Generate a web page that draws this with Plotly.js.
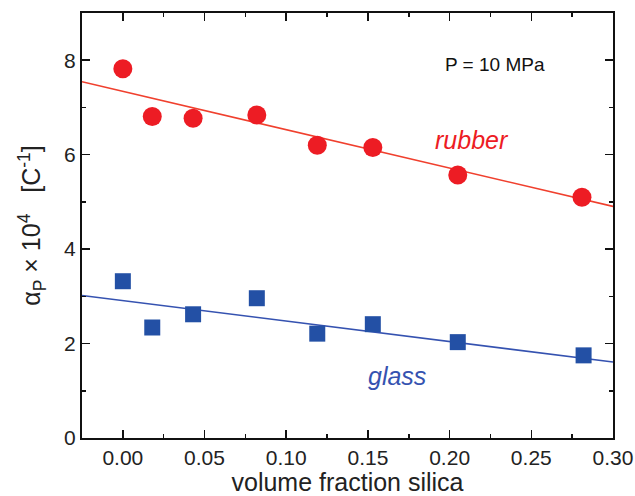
<!DOCTYPE html>
<html><head><meta charset="utf-8">
<script src="https://cdn.plot.ly/plotly-3.0.1.min.js"></script>
<style>html,body{margin:0;padding:0;background:#fff}#c{width:635px;height:496px}</style>
</head><body><div id="c"></div>
<script>
const silicaRubber = [0.000, 0.018, 0.043, 0.082, 0.119, 0.153, 0.205, 0.281];
const alphaRubber  = [7.82, 6.81, 6.77, 6.84, 6.20, 6.15, 5.57, 5.10];
const silicaGlass  = [0.000, 0.018, 0.043, 0.082, 0.119, 0.153, 0.205, 0.282];
const alphaGlass   = [3.32, 2.34, 2.62, 2.96, 2.21, 2.41, 2.03, 1.75];
const rubberFit = [7.34, -8.12];   // intercept, slope
const glassFit  = [2.91, -4.34];
const fitRange  = [-0.025, 0.30];
const xTicks = [0, 0.05, 0.10, 0.15, 0.20, 0.25, 0.30];
const xTickText = ['0.00','0.05','0.10','0.15','0.20','0.25','0.30'];
const yTicks = [0, 2, 4, 6, 8];

const font = 'Liberation Sans, Arial, sans-serif';
const red = '#ED1C24', blue = '#2350A5';
const fitY = (p) => fitRange.map(x => p[0] + p[1]*x);

const traces = [
  {x: fitRange, y: fitY(rubberFit), mode:'lines', line:{color:'#F0402E', width:1.6}, hoverinfo:'skip'},
  {x: fitRange, y: fitY(glassFit), mode:'lines', line:{color:'#3552B0', width:1.6}, hoverinfo:'skip'},
  {x: silicaRubber, y: alphaRubber, mode:'markers', marker:{symbol:'circle', size:19, color:red}},
  {x: silicaGlass, y: alphaGlass, mode:'markers', marker:{symbol:'square', size:16, color:blue}}
];

const axisCommon = {
  showline:true, linecolor:'#111', linewidth:2, mirror:'ticks',
  ticks:'inside', ticklen:8, tickwidth:1.5, tickcolor:'#111',
  showgrid:false, zeroline:false,
  tickfont:{family:font, size:21, color:'#222'}
};

const layout = {
  width:635, height:496,
  margin:{l:82, r:22, t:13, b:58},
  paper_bgcolor:'#fff', plot_bgcolor:'#fff',
  showlegend:false,
  xaxis: Object.assign({}, axisCommon, {
    range: fitRange, tickvals: xTicks, ticktext: xTickText,
    minor:{dtick:0.025, ticks:'inside', ticklen:4, tickwidth:1.5, tickcolor:'#111', showgrid:false},
    title:{text:'volume fraction silica', font:{family:font, size:25, color:'#222'}, standoff:5}
  }),
  yaxis: Object.assign({}, axisCommon, {
    range:[0, 9], tickvals: yTicks,
    minor:{dtick:1, ticks:'inside', ticklen:4, tickwidth:1.5, tickcolor:'#111', showgrid:false},
    title:{text:'α<sub>P</sub> × 10<sup>4</sup>   [C<sup>-1</sup>]', font:{family:font, size:25, color:'#222'}, standoff:16}
  }),
  annotations:[
    {x:0.228, y:7.9, xref:'x', yref:'y', text:'P = 10 MPa', showarrow:false, font:{family:font, size:19, color:'#111'}},
    {x:0.214, y:6.31, xref:'x', yref:'y', text:'<i>rubber</i>', showarrow:false, font:{family:font, size:25, color:red}},
    {x:0.168, y:1.31, xref:'x', yref:'y', text:'<i>glass</i>', showarrow:false, font:{family:font, size:25, color:'#3552B0'}}
  ]
};

Plotly.newPlot('c', traces, layout, {staticPlot:true});
</script></body></html>
